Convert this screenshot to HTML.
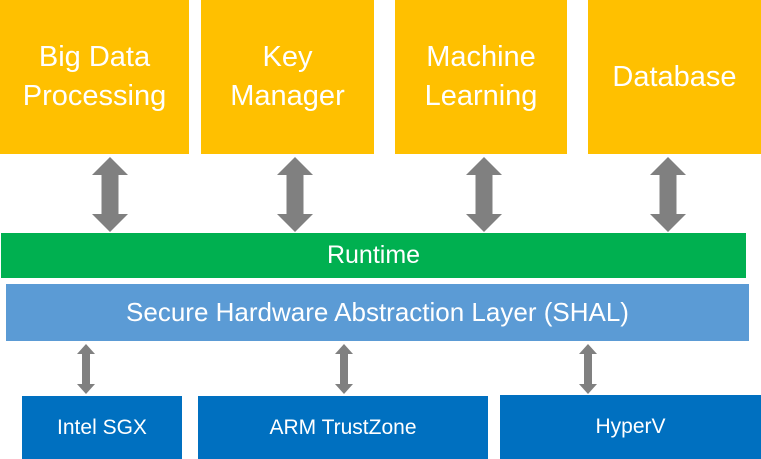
<!DOCTYPE html>
<html><head><style>
body{margin:0;width:761px;height:459px;position:relative;background:#fff;overflow:hidden;font-family:"Liberation Sans",sans-serif;color:#fff}
.b{position:absolute;display:flex;align-items:center;justify-content:center;text-align:center}
.y{background:#FFC000;top:0;height:154px;font-size:29px;line-height:39px;padding-bottom:0}
.d{background:#0070C0;font-size:21px}
</style></head><body>
<div class="b y" style="left:0;width:189px">Big Data<br>Processing</div>
<div class="b y" style="left:201px;width:173px">Key<br>Manager</div>
<div class="b y" style="left:395px;width:172px">Machine<br>Learning</div>
<div class="b y" style="left:588px;width:173px">Database</div>
<div class="b" style="left:1px;top:233px;width:745px;height:45px;background:#00B050;font-size:25px">Runtime</div>
<div class="b" style="left:6px;top:284px;width:743px;height:57px;background:#5B9BD5;font-size:26px">Secure Hardware Abstraction Layer (SHAL)</div>
<div class="b d" style="left:22px;top:396px;width:160px;height:63px">Intel SGX</div>
<div class="b d" style="left:198px;top:396px;width:290px;height:63px">ARM TrustZone</div>
<div class="b d" style="left:500px;top:395px;width:261px;height:64px">HyperV</div>
<svg width="761" height="459" style="position:absolute;left:0;top:0">
<g fill="#808080">
<polygon id="a" points="0,157 18,175 8.5,175 8.5,214 18,214 0,232 -18,214 -8.5,214 -8.5,175 -18,175" transform="translate(110,0)"/>
<use href="#a" transform="translate(185,0)"/>
<use href="#a" transform="translate(374,0)"/>
<use href="#a" transform="translate(558,0)"/>
<polygon id="s" points="0,344 9,354 4,354 4,384 9,384 0,394 -9,384 -4,384 -4,354 -9,354" transform="translate(86,0)"/>
<use href="#s" transform="translate(258,0)"/>
<use href="#s" transform="translate(502,0)"/>
</g></svg>
</body></html>
